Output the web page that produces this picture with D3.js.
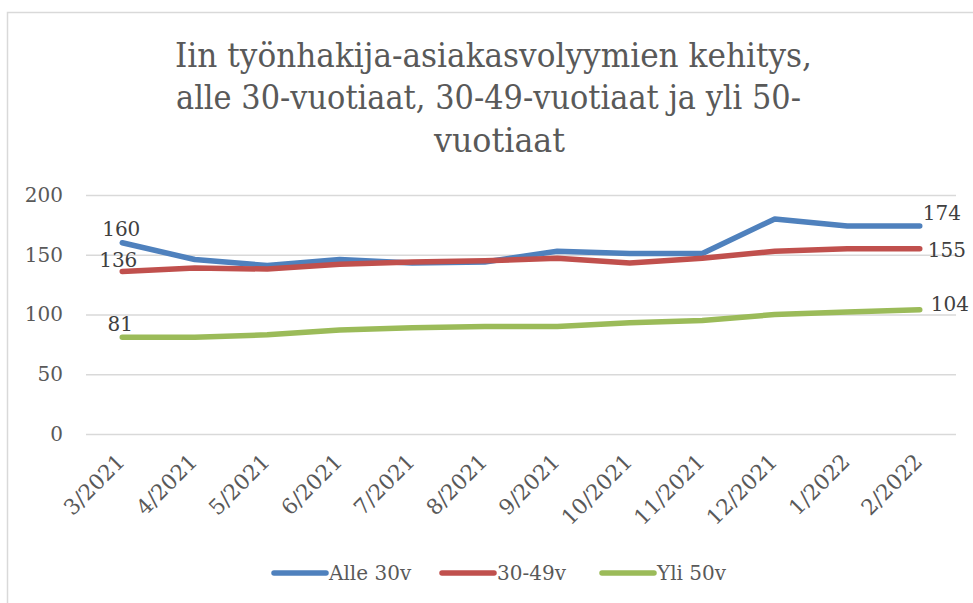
<!DOCTYPE html>
<html><head><meta charset="utf-8">
<script src="https://cdn.jsdelivr.net/npm/d3@7"></script>
<style>html,body{margin:0;padding:0;background:#fff;}svg{display:block;}</style>
</head><body>
<script>
const categories = ["3/2021","4/2021","5/2021","6/2021","7/2021","8/2021","9/2021","10/2021","11/2021","12/2021","1/2022","2/2022"];
const alle30 = [160,146,141,146,143,144,153,151,151,180,174,174];
const v30_49 = [136,139,138,142,144,145,147,143,147,153,155,155];
const yli50 = [81,81,83,87,89,90,90,93,95,100,102,104];
const seriesNames = ["Alle 30v","30-49v","Yli 50v"];
const seriesColors = ["#4F81BD","#C0504D","#9BBB59"];
const yTicks = [0,50,100,150,200];
const titleLines = ["Iin työnhakija-asiakasvolyymien kehitys,","alle 30-vuotiaat, 30-49-vuotiaat ja yli 50-","vuotiaat"];

const W = 973, H = 603;
const serif = "'DejaVu Serif', serif";
const textColor = "#595959";
const svg = d3.select("body").append("svg").attr("width", W).attr("height", H);
svg.append("rect").attr("width", W).attr("height", H).attr("fill", "#fff");
// chart border
svg.append("path").attr("d", `M7.5,${H} V12.5 H${W}`).attr("fill","none").attr("stroke","#D9D9D9").attr("stroke-width",1.5);

// title
const titleSpec = [{x:175,y:67,len:637},{x:176,y:109,len:625},{x:434,y:152,len:131}];
svg.append("g").selectAll("text").data(titleLines).join("text")
  .attr("x",(d,i)=>titleSpec[i].x).attr("y",(d,i)=>titleSpec[i].y)
  .attr("textLength",(d,i)=>titleSpec[i].len).attr("lengthAdjust","spacingAndGlyphs")
  .attr("font-family",serif).attr("font-size",33).attr("fill",textColor).text(d=>d);

const x = d3.scaleBand().domain(categories).range([86,956]);
const y = d3.scaleLinear().domain([0,200]).range([434,195]);
const cx = c => x(c) + x.bandwidth()/2;

// grid + y axis
const yAxis = d3.axisLeft(y).tickValues(yTicks).tickSize(-(956-86)).tickPadding(23);
const gy = svg.append("g").attr("transform","translate(86,0)").call(yAxis);
gy.select(".domain").remove();
gy.selectAll(".tick line").attr("stroke","#D9D9D9").attr("stroke-width",1.5);
gy.selectAll(".tick text").attr("font-family",serif).attr("font-size",20).attr("fill",textColor);

// x axis labels
const xAxis = d3.axisBottom(x).tickSize(0).tickPadding(0);
const gx = svg.append("g").attr("transform","translate(0,434)").call(xAxis);
gx.select(".domain").remove();
gx.selectAll(".tick text").attr("font-family",serif).attr("font-size",21.5).attr("fill",textColor)
  .attr("text-anchor","end").attr("dy",null).attr("y",null)
  .attr("transform","translate(4,29) rotate(-45)");

// lines
const allSeries = [alle30, v30_49, yli50];
const line = d3.line().x((d,i)=>cx(categories[i])).y(d=>y(d));
svg.append("g").selectAll("path").data(allSeries).join("path")
  .attr("d", d=>line(d)).attr("fill","none")
  .attr("stroke",(d,i)=>seriesColors[i]).attr("stroke-width",5.5)
  .attr("stroke-linejoin","round").attr("stroke-linecap","round");

// data labels (first and last)
const labelOffsets = [
  {first:[-1,-7,"middle"], last:[3,-6,"start"]},
  {first:[-4,-4,"middle"], last:[8,8,"start"]},
  {first:[-2,-6,"middle"], last:[11,1,"start"]}
];
const lab = svg.append("g").attr("font-family",serif).attr("font-size",20).attr("fill","#404040");
allSeries.forEach((s,i)=>{
  const n = s.length-1;
  const o = labelOffsets[i];
  lab.append("text").attr("x",cx(categories[0])+o.first[0]).attr("y",y(s[0])+o.first[1])
    .attr("text-anchor",o.first[2]).text(s[0]);
  lab.append("text").attr("x",cx(categories[n])+o.last[0]).attr("y",y(s[n])+o.last[1])
    .attr("text-anchor",o.last[2]).text(s[n]);
});

// legend
const legX = [272, 440, 600];
const lg = svg.append("g").selectAll("g").data(seriesNames).join("g")
  .attr("transform",(d,i)=>`translate(${legX[i]},573)`);
lg.append("line").attr("x1",2).attr("x2",54).attr("y1",0).attr("y2",0)
  .attr("stroke",(d,i)=>seriesColors[i]).attr("stroke-width",5.5).attr("stroke-linecap","round");
lg.append("text").attr("x",57).attr("y",7).attr("font-family",serif).attr("font-size",20)
  .attr("fill",textColor).text(d=>d);
</script>
</body></html>
